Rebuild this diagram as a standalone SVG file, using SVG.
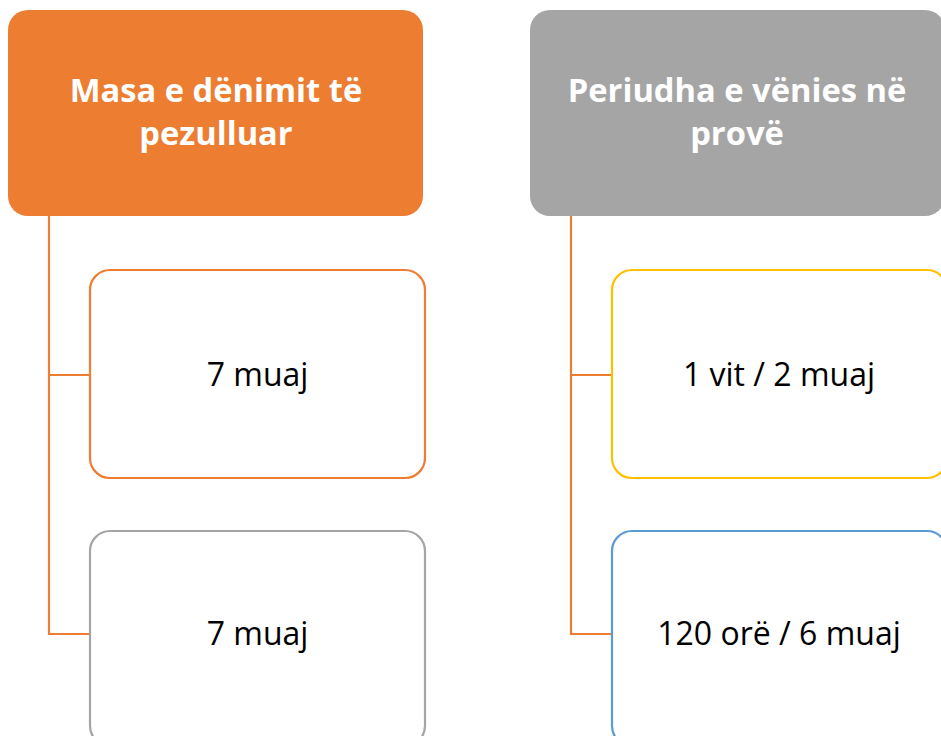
<svg xmlns="http://www.w3.org/2000/svg" width="941" height="736" viewBox="0 0 941 736">
<style>
.hdr{font-family:"Open Sans","Noto Sans","Liberation Sans",sans-serif;font-weight:bold;font-size:32.7px;fill:#fff;text-anchor:middle}
.lbl{font-family:"Open Sans","Noto Sans","Liberation Sans",sans-serif;font-size:32px;fill:#000;text-anchor:middle}
.box{fill:#fff;stroke-width:2.2}
.conn{fill:none;stroke:#ED7D31;stroke-width:2.2}
</style>
<rect width="941" height="736" fill="#fff"/>
<g id="connectors">
<path class="conn" d="M49,216 V634 H90 M49,375 H90"/>
<path class="conn" d="M571,216 V634 H612 M571,375 H612"/>
</g>
<g id="hdr1">
<rect x="8" y="10" width="415" height="206" rx="20" fill="#ED7D31"/>
<text class="hdr" x="216" y="102">Masa e dënimit të</text>
<text class="hdr" x="216" y="145">pezulluar</text>
</g>
<g id="hdr2">
<rect x="530" y="10" width="415" height="206" rx="20" fill="#A5A5A5"/>
<text class="hdr" x="737" y="102">Periudha e vënies në</text>
<text class="hdr" x="737" y="145">provë</text>
</g>
<g id="c1">
<rect class="box" x="90" y="270" width="335" height="208" rx="20" stroke="#ED7D31"/>
<text class="lbl" x="257.5" y="386">7 muaj</text>
</g>
<g id="c2">
<rect class="box" x="90" y="531" width="335" height="215" rx="20" stroke="#A5A5A5"/>
<text class="lbl" x="257.5" y="645">7 muaj</text>
</g>
<g id="c3">
<rect class="box" x="612" y="270" width="335" height="208" rx="20" stroke="#FFC000"/>
<text class="lbl" x="779" y="386">1 vit / 2 muaj</text>
</g>
<g id="c4">
<rect class="box" x="612" y="531" width="335" height="215" rx="20" stroke="#5B9BD5"/>
<text class="lbl" x="779" y="645">120 orë / 6 muaj</text>
</g>
</svg>
